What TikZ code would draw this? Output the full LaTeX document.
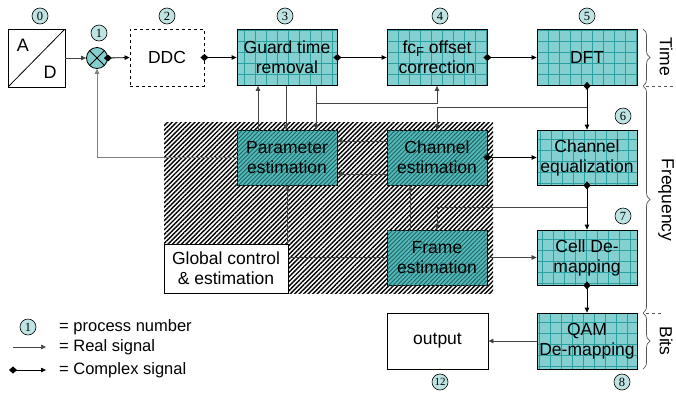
\documentclass[tikz,border=0pt]{standalone}
\usepackage{fontspec}
\setmainfont{Liberation Sans}
\newfontfamily\numfont{Liberation Serif}
\usetikzlibrary{arrows.meta,calc,patterns.meta,decorations.pathreplacing}
\definecolor{tealbox}{HTML}{84CFCF}
\definecolor{tealgrid}{HTML}{2AA0A0}
\definecolor{tealmid}{HTML}{55B9B9}
\definecolor{tealdark}{HTML}{1E6464}
\definecolor{circfill}{HTML}{BFE3E3}
\definecolor{sig}{HTML}{444444}
\definecolor{bracec}{HTML}{555555}
\begin{document}
\begin{tikzpicture}[x=1pt,y=-1pt,
  every node/.style={font=\fontsize{17.5}{20}\selectfont, align=center, inner sep=0pt},
  gridbox/.style={draw=black, line width=0.8pt, fill=tealbox, minimum width=100pt, minimum height=56pt,
     path picture={\draw[tealgrid, line width=0.4pt, step=11pt] (path picture bounding box.south west) grid (path picture bounding box.north east);}},
  hbox/.style={draw=black, line width=0.8pt, fill=tealmid, minimum width=100pt, minimum height=55pt,
     postaction={pattern={Lines[angle=45,distance=3pt,line width=0.9pt]}, pattern color=tealdark}},
  wbox/.style={draw=black, line width=0.8pt, fill=white},
  pc/.style={circle, draw=black, line width=0.6pt, fill=circfill, minimum size=16pt, font=\numfont\fontsize{12.5}{12.5}\selectfont},
  real/.style={draw=sig, line width=0.7pt, -{Triangle[length=5pt,width=4.5pt]}},
  cplx/.style={draw=black, line width=0.8pt, {Diamond[length=8pt,width=7pt]}-{Triangle[length=5pt,width=4.5pt]}, shorten <=-4pt},
  bracestyle/.style={draw=bracec, line width=0.7pt, decorate, decoration={brace, amplitude=7pt}},
  sidelabel/.style={rotate=-90, font=\fontsize{17.5}{20}\selectfont},
  legtext/.style={anchor=west, font=\fontsize{16.5}{19}\selectfont}
]
\useasboundingbox (0,0) rectangle (676,394);
% hatched estimation region
\fill[pattern={Lines[angle=45,distance=3.2pt,line width=1.4pt]}, pattern color=black] (164,122) rectangle (493,293);

% top row
\node[wbox, minimum width=57pt, minimum height=58pt,
  path picture={\draw[black, line width=0.8pt] (path picture bounding box.south west) -- (path picture bounding box.north east);}] (ad) at (36.5,58) {};
\node (adA) at (23,45) {\fontsize{18}{18}\selectfont A};
\node (adD) at (50,72) {\fontsize{18}{18}\selectfont D};
\node[circle, draw=black, line width=0.8pt, fill=tealbox, minimum size=21pt,
  path picture={\draw[black, line width=0.8pt] (path picture bounding box.south west) -- (path picture bounding box.north east)
     (path picture bounding box.north west) -- (path picture bounding box.south east);}] (mix) at (97,58) {};
\node[draw=black, dashed, line width=0.8pt, minimum width=74pt, minimum height=57pt] (ddc) at (167,57.5) {DDC};
\node[gridbox] (gtr) at (287,57.5) {Guard time\\removal};
\node[gridbox] (fco) at (437,57.5) {fc\raisebox{-3pt}{\fontsize{13}{13}\selectfont F} offset\\correction};
\node[gridbox] (dft) at (587,57.5) {DFT};

% right column
\node[gridbox, minimum height=55pt] (che) at (587,157.5) {Channel\\equalization};
\node[gridbox, minimum height=55pt] (cdm) at (587,257.5) {Cell De-\\mapping};
\node[gridbox] (qam) at (587,341) {QAM\\De-mapping};
\node[wbox, minimum width=101pt, minimum height=56pt] (out) at (437.5,341) {output};

% estimation blocks
\node[hbox] (par) at (287,157.5) {Parameter\\estimation};
\node[hbox] (ces) at (437,157.5) {Channel\\estimation};
\node[hbox] (fes) at (437,257.5) {Frame\\estimation};
\node[wbox, minimum width=124pt, minimum height=49pt] (glb) at (226,268.5) {Global control\\\& estimation};

% process numbers
\node[pc] (n0) at (40,16) {0};
\node[pc] (n1) at (99,33) {1};
\node[pc] (n2) at (167,16) {2};
\node[pc] (n3) at (285,16) {3};
\node[pc] (n4) at (440,16) {4};
\node[pc] (n5) at (587,16) {5};
\node[pc] (n6) at (623,116) {6};
\node[pc] (n7) at (623,216) {7};
\node[pc] (n8) at (622,382) {8};
\node[pc, font=\numfont\fontsize{11}{11}\selectfont] (n12) at (440,382) {12};

% connectors
\draw[real] (ad.east) -- (mix.west);
\draw[cplx] (mix.east) -- (ddc.west);
\draw[cplx] (ddc.east) -- (gtr.west);
\draw[cplx] (gtr.east) -- (fco.west);
\draw[cplx] (fco.east) -- (dft.west);
\draw[cplx] (dft.south) -- (che.north);
\coordinate (b1) at ($(dft.south)!0.5!(che.north)$);
\draw[real] (b1) -| (ces.north);
\draw[cplx] (ces.east) -- (che.west);
\draw[cplx] (che.south) -- (cdm.north);
\coordinate (b2) at ($(che.south)!0.5!(cdm.north)$);
\draw[real] (b2) -| (fes.north);
\draw[cplx] (cdm.south) -- (qam.north);
\draw[real] (qam.west) -- (out.east);
\draw[real] (fes.east) -- (cdm.west);
\draw[real] ($(fes.north)+(-27,0)$) -- ($(ces.south)+(-27,0)$);
\draw[real] ($(ces.west)+(0,-16.5)$) -- ($(par.east)+(0,-16.5)$);
\draw[real] ($(ces.west)+(0,16.5)$) -- ($(par.east)+(0,16.5)$);
\draw[real] ($(par.north)+(-29,0)$) -- ($(gtr.south)+(-29,0)$);
\draw[real] ($(gtr.south)+(-1,0)$) -- ($(par.north)+(-1,0)$);
\draw[real] ($(gtr.south)+(29,0)$) -- ($(par.north)+(29,0)$);
\coordinate (b3) at ($(gtr.south)+(29,17)$);
\draw[real] (b3) -| (fco.south);
\draw[draw=sig, line width=0.7pt] (fes.west) -- (fes.west -| glb.east);
\draw[real] (par.south |- glb.north) -- (par.south);
\draw[real, draw=gray] (par.west) -| (mix.south);

% braces and domain labels
\draw[bracestyle] (643,29) -- (643,86);
\draw[bracestyle] (643,86) -- (643,313);
\draw[bracestyle] (643,313) -- (643,369);
\draw[draw=bracec, dashed, line width=0.7pt] (646,86) -- (676,86);
\draw[draw=bracec, dashed, line width=0.7pt] (646,313) -- (662,313);
\node[sidelabel] (lTime) at (666,57) {Time};
\node[sidelabel] (lFreq) at (666,200) {Frequency};
\node[sidelabel] (lBits) at (666,341) {Bits};

% legend
\node[pc] (lg1) at (28,327) {1};
\node[legtext] (lgt1) at (59,327) {= process number};
\coordinate (lr0) at (13,347);
\coordinate (lr1) at (46,347);
\draw[real] (lr0) -- (lr1);
\node[legtext] (lgt2) at (59,347) {= Real signal};
\coordinate (lc0) at (13,370);
\coordinate (lc1) at (46,370);
\draw[cplx] (lc0) -- (lc1);
\node[legtext] (lgt3) at (59,370) {= Complex signal};
\end{tikzpicture}
\end{document}
